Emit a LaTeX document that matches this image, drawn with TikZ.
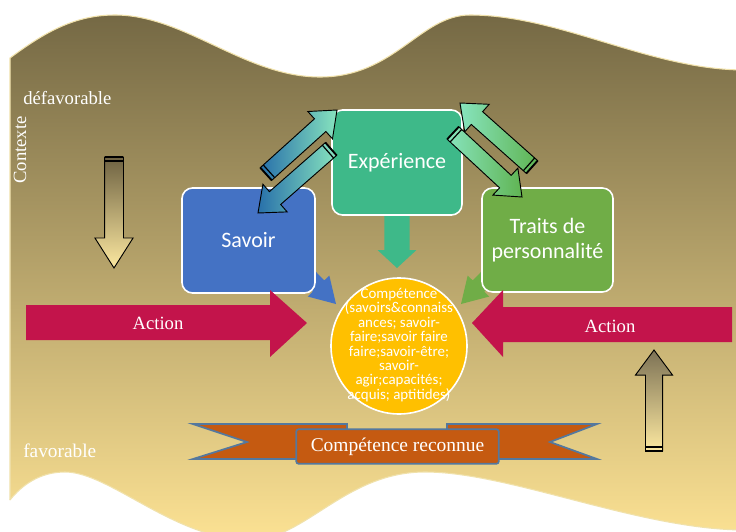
\documentclass[tikz,border=0pt]{standalone}
\usepackage{fontspec}
\setmainfont{Liberation Serif}
\newfontfamily\calib{Carlito}
\usetikzlibrary{calc}
\definecolor{bgtop}{RGB}{116,104,68}
\definecolor{bgmid}{RGB}{212,186,122}
\definecolor{bgbot}{RGB}{250,224,146}
\definecolor{bgedge}{RGB}{240,225,170}
\definecolor{savblue}{RGB}{68,114,196}
\definecolor{expgreen}{RGB}{62,185,137}
\definecolor{traitgreen}{RGB}{112,173,71}
\definecolor{compyellow}{RGB}{255,192,0}
\definecolor{actred}{RGB}{195,20,75}
\definecolor{banorange}{RGB}{197,90,17}
\definecolor{banedge}{RGB}{84,120,158}
\definecolor{arrblue}{RGB}{40,112,170}
\definecolor{arrmint}{RGB}{135,228,190}
\definecolor{arrgreen}{RGB}{96,180,82}
\definecolor{olivedark}{RGB}{110,98,66}
\definecolor{creamlight}{RGB}{252,232,160}
\newcommand\fatarr[6]{%
  \coordinate (tmpH) at ($(#3)!#6!(#2)$);
  \path[#1] ($(#2)!#4!90:(#3)$) -- ($(tmpH)!#4!90:(#3)$) -- ($(tmpH)!#5!90:(#3)$) -- (#3)
    -- ($(tmpH)!#5!-90:(#3)$) -- ($(tmpH)!#4!-90:(#3)$) -- ($(#2)!#4!-90:(#3)$) -- cycle;}
\newcommand\tailcap[3]{%
  \draw[line width=1.4pt] ($(#1)!#3!90:(#2)$) -- ($(#1)!#3!-90:(#2)$);
  \coordinate (tmpC) at ($(#1)!3pt!(#2)$);
  \draw[line width=0.9pt] ($(tmpC)!#3!90:(#2)$) -- ($(tmpC)!#3!-90:(#2)$);}
\begin{document}
\begin{tikzpicture}[x=0.75pt,y=-0.75pt,
  box/.style={draw=white, line width=1.2pt, rounded corners=8pt, text=white,
    font=\calib\fontsize{16.5}{19}\selectfont, align=center, inner sep=0pt},
  serifw/.style={text=white, font=\fontsize{14}{16}\selectfont, inner sep=0pt},
  outl/.style={draw=black, line width=0.7pt}]
\useasboundingbox (0,0) rectangle (736,532);
% background: gradient band, then white waves over it
\path[top color=bgtop, middle color=bgmid, bottom color=bgbot] (10,12) rectangle (740,532);
\path[fill=white] (-5,-5) -- (-5,540) -- (10,540) -- (10,58)
  .. controls (45,32) and (75,15) .. (115,15)
  .. controls (185,15) and (245,77) .. (320,77)
  .. controls (395,77) and (420,15) .. (470,15)
  .. controls (560,15) and (650,70) .. (745,70)
  -- (745,-5) -- cycle;
\path[fill=white] (10,500)
  .. controls (22,485) and (40,472) .. (65,472)
  .. controls (110,472) and (175,540) .. (250,540)
  .. controls (305,540) and (345,472) .. (425,472)
  .. controls (510,472) and (640,530) .. (745,530)
  -- (745,545) -- (10,545) -- cycle;
\draw[bgedge, line width=0.8pt] (10,500) -- (10,58)
  .. controls (45,32) and (75,15) .. (115,15)
  .. controls (185,15) and (245,77) .. (320,77)
  .. controls (395,77) and (420,15) .. (470,15)
  .. controls (560,15) and (650,70) .. (745,70);
\draw[bgedge, line width=0.8pt] (10,500)
  .. controls (22,485) and (40,472) .. (65,472)
  .. controls (110,472) and (175,540) .. (250,540)
  .. controls (305,540) and (345,472) .. (425,472)
  .. controls (510,472) and (640,530) .. (745,530);
% context texts
\node[serifw, anchor=base west] (defav) at (23,104) {défavorable};
\node[serifw, rotate=90] (ctx) at (20,150) {Contexte};
\node[serifw, font=\fontsize{14.5}{16}\selectfont, anchor=base west] (fav) at (23,457) {favorable};
% vertical context arrows
\coordinate (dA) at (114,157); \coordinate (dB) at (114,268);
\fatarr{outl, top color=olivedark, bottom color=creamlight}{dA}{dB}{7.1pt}{14.3pt}{22.5pt}
\tailcap{dA}{dB}{7.1pt}
\coordinate (uA) at (654,451); \coordinate (uB) at (654,350);
\fatarr{outl, top color=olivedark!90!white, bottom color=creamlight}{uA}{uB}{6.4pt}{13.9pt}{18.8pt}
\tailcap{uA}{uB}{6.4pt}
% small arrows to the competence circle
\coordinate (sA) at (300,267); \coordinate (sB) at (336,304);
\fatarr{fill=savblue}{sA}{sB}{6pt}{11.3pt}{18.8pt}
\coordinate (tA) at (497,267); \coordinate (tB) at (461,304);
\fatarr{fill=traitgreen}{tA}{tB}{6pt}{11.3pt}{18.8pt}
\coordinate (eA) at (397,205); \coordinate (eB) at (397,268);
\fatarr{fill=expgreen}{eA}{eB}{9.4pt}{14.6pt}{13.5pt}
% boxes
\node[box, fill=savblue, minimum width=99.8pt, minimum height=78.8pt] (sav) at (248.5,240.5) {Savoir};
\node[box, fill=expgreen, minimum width=97.5pt, minimum height=78.8pt] (exp) at (397,162.5) {Expérience};
\node[box, fill=traitgreen, minimum width=98.3pt, minimum height=78pt] (trait) at (547.5,240) {Traits de\\personnalité};
% competence circle
\node[circle, fill=compyellow, draw=white, line width=1.2pt, minimum size=102pt, inner sep=0pt] (comp) at (399,346) {};
\node[text=white, align=center, inner sep=0pt, font=\calib\fontsize{11.2}{10.8}\selectfont] (comptxt) at (399,345)
  {Compétence\\(savoirs\&connaiss\\ances; savoir-\\faire;savoir faire\\faire;savoir-être;\\savoir-\\agir;capacités;\\acquis; aptitides)};
% action arrows
\path[fill=actred] (26,305) -- (270,305) -- (270,290) -- (307,323) -- (270,357) -- (270,340) -- (26,340) -- cycle;
\node[serifw] (act1) at (158,323) {Action};
\path[fill=actred] (732,307) -- (503,307) -- (503,290) -- (472,323) -- (503,357) -- (503,342) -- (732,342) -- cycle;
\node[serifw] (act2) at (610,326) {Action};
% banner
\path[fill=banorange, draw=banedge, line width=1.3pt] (193,424) -- (347,424) -- (347,459) -- (193,459) -- (247,442) -- cycle;
\path[fill=banorange, draw=banedge, line width=1.3pt] (597,424) -- (447,424) -- (447,459) -- (597,459) -- (550,442) -- cycle;
\node[fill=banorange, draw=banedge, line width=1.3pt, rounded corners=2pt, minimum width=152pt, minimum height=26pt, inner sep=0pt,
  text=white, font=\fontsize{14.6}{16}\selectfont] (banner) at (397.5,446.5) {Compétence reconnue};
% double arrows Savoir <-> Experience
\coordinate (l1A) at (266,174); \coordinate (l1B) at (337,110);
\fatarr{outl, left color=arrblue, right color=arrmint}{l1A}{l1B}{6.4pt}{13.8pt}{17pt}
\tailcap{l1A}{l1B}{6.4pt}
\coordinate (l2A) at (331,149); \coordinate (l2B) at (258,213);
\fatarr{outl, left color=arrblue, right color=arrmint}{l2A}{l2B}{6.4pt}{13.8pt}{17pt}
\tailcap{l2A}{l2B}{6.4pt}
% double arrows Experience <-> Traits
\coordinate (r1A) at (532,167); \coordinate (r1B) at (460,103);
\fatarr{outl, left color=arrmint, right color=arrgreen}{r1A}{r1B}{6.4pt}{13.8pt}{17pt}
\tailcap{r1A}{r1B}{6.4pt}
\coordinate (r2A) at (453,133); \coordinate (r2B) at (522,197);
\fatarr{outl, left color=arrmint, right color=arrgreen}{r2A}{r2B}{6.4pt}{13.8pt}{17pt}
\tailcap{r2A}{r2B}{6.4pt}
\end{tikzpicture}
\end{document}
